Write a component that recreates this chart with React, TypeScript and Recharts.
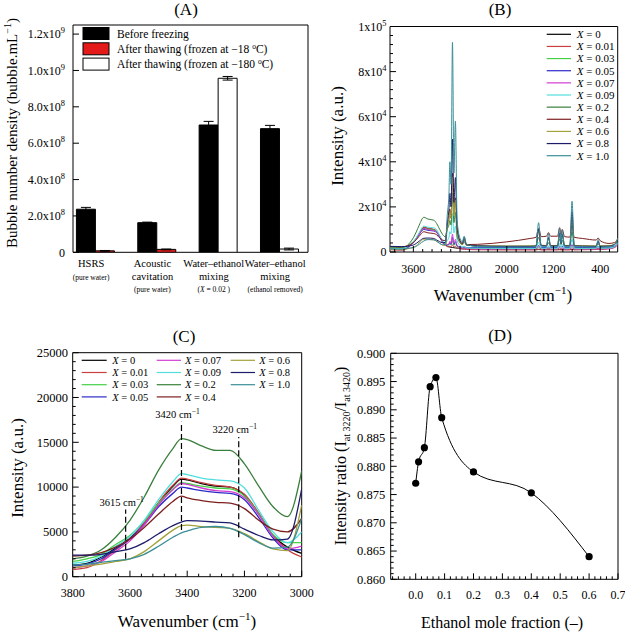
import React from "react"
import {
  BarChart,
  Bar,
  LineChart,
  Line,
  XAxis,
  YAxis,
  ErrorBar,
  Cell,
  ReferenceArea,
  ReferenceLine,
} from "recharts"

const FONT = "'Liberation Serif', 'Times New Roman', Times, serif"

// ---------- (A) bubble number density ----------
const groupIdx = [1, 2, 3, 4]
const groupLine1 = ["HSRS", "Acoustic", "Water\u2013ethanol", "Water\u2013ethanol"]
const groupLine2 = ["", "cavitation", "mixing", "mixing"]
const groupNote = ["(pure water)", "(pure water)", "(X = 0.02 )", "(ethanol removed)"]
const beforeVals = [2.37e8, 1.63e8, 7.0e8, 6.8e8]
const beforeErr = [0.1e8, 0.03e8, 0.2e8, 0.18e8]
const afterVals = [0.08e8, 0.16e8, 9.57e8, 0.18e8]
const afterErr = [0.02e8, 0.02e8, 0.1e8, 0.05e8]
const afterFill = ["#e41a1a", "#e41a1a", "#ffffff", "#ffffff"]
const legendA = ["Before freezing", "After thawing (frozen at \u221218 ", "After thawing (frozen at \u2212180 "]
const legendAFill = ["#000000", "#e41a1a", "#ffffff"]

// ---------- shared series (B, C) ----------
const seriesLabels = ["0", "0.01", "0.03", "0.05", "0.07", "0.09", "0.2", "0.4", "0.6", "0.8", "1.0"]
const seriesColors = [
  "#000000", "#c84040", "#45d045", "#2b2bc8", "#d23cd2", "#52dede",
  "#3a7f3c", "#7d1f1f", "#a3a23a", "#1c1c6a", "#3a8e98",
]

// ---------- (B) full Raman spectra ----------
const wB = [
  4000, 3800, 3700, 3650, 3600, 3550, 3500, 3420, 3350, 3250, 3200, 3150, 3100, 3050,
  3020, 2990, 2975, 2955, 2930, 2905, 2880, 2850, 2800, 2760, 2730, 2690,
  2500, 2000, 1600, 1500,
  1455, 1410, 1320, 1285, 1250, 1130, 1095, 1070, 1050, 1010, 920, 882, 845,
  700, 470, 435, 400, 250, 150, 100,
]
const b0 = [
  1500, 1300, 2200, 3200, 4300, 6000, 8200, 10900, 10400, 10000, 9100, 7000, 4600, 3300,
  2600, 2300, 2200, 2100, 2000, 1900, 1800, 1700, 1600, 1500, 1500, 1400,
  1300, 1200, 1200, 1200,
  1200, 1200, 1200, 1200, 1200, 1200, 1200, 1200, 1200, 1200, 1200, 1200, 1200,
  1300, 1400, 1400, 1500, 1800, 2400, 3800,
]
const b1 = [
  1000, 800, 1800, 3000, 4200, 6000, 8300, 11000, 10500, 10000, 9200, 7100, 4600, 3000,
  2400, 2300, 2600, 2300, 3200, 2200, 2500, 1800, 1400, 1200, 1200, 1100,
  1000, 900, 900, 900,
  1100, 900, 900, 950, 900, 900, 1000, 900, 950, 900, 900, 1300, 900,
  1000, 1100, 1200, 1100, 1400, 2000, 3200,
]
const b2 = [
  1900, 1700, 2500, 3600, 4600, 6200, 8200, 10500, 10100, 9800, 9000, 7000, 4700, 3800,
  3400, 3200, 3600, 3100, 4800, 3000, 3600, 2400, 1900, 1700, 1700, 1600,
  1500, 1400, 1400, 1400,
  2000, 1400, 1400, 1500, 1400, 1400, 1800, 1500, 1700, 1400, 1400, 2300, 1400,
  1400, 1500, 1700, 1500, 1700, 2300, 3800,
]
const b3 = [
  1400, 1200, 2000, 3100, 4200, 5800, 7800, 10000, 9600, 9300, 8600, 6600, 4300, 3000,
  3100, 3300, 4200, 3400, 6500, 3300, 4600, 2700, 2200, 2100, 2200, 2000,
  2000, 2000, 2000, 2000,
  2800, 2000, 2000, 2200, 2000, 2000, 2600, 2100, 2500, 2000, 2000, 3200, 2000,
  2000, 2000, 2400, 2000, 2100, 2600, 4200,
]
const b4 = [
  1200, 1000, 1700, 2800, 4000, 5800, 8000, 10400, 9900, 9500, 8800, 6900, 4500, 3100,
  3300, 3600, 4800, 3800, 8000, 3800, 5600, 2800, 1900, 1600, 1700, 1400,
  1300, 1300, 1300, 1300,
  2600, 1300, 1300, 1600, 1300, 1300, 2000, 1400, 1800, 1300, 1300, 3200, 1300,
  1300, 1300, 1700, 1300, 1500, 2100, 3600,
]
const b5 = [
  1700, 1500, 2300, 3400, 4500, 6300, 8600, 11500, 11000, 10700, 9900, 7400, 5000, 3800,
  5000, 6500, 9000, 8000, 17000, 8500, 11500, 5000, 2800, 2200, 2600, 1900,
  1700, 1600, 1600, 1600,
  4200, 1700, 1700, 2600, 1700, 1700, 3800, 2200, 3400, 1700, 1700, 5500, 1700,
  1600, 1700, 2500, 1700, 1800, 2400, 4200,
]
const b6 = [
  2200, 2000, 3000, 4400, 6300, 8900, 11900, 15400, 14600, 14100, 12600, 10100, 7800, 6700,
  10000, 12000, 14000, 12000, 26000, 13000, 17500, 7000, 4000, 3200, 4500, 3000,
  2800, 2600, 2600, 2700,
  6500, 2800, 2700, 4000, 2700, 2700, 5800, 3300, 5200, 2700, 2700, 9000, 2700,
  2600, 2600, 3600, 2600, 2700, 3300, 5500,
]
const b7 = [
  2400, 2300, 2700, 3300, 4200, 5500, 7000, 9000, 8500, 8200, 7600, 6300, 5300, 5000,
  12000, 15000, 19000, 15000, 35000, 17000, 24000, 9000, 4500, 3600, 5500, 3300,
  3400, 4500, 6000, 6500,
  10500, 6800, 7000, 8600, 7000, 7000, 10800, 7600, 10000, 6800, 6600, 12000, 6500,
  6000, 5300, 6200, 5000, 3800, 4200, 5800,
]
const b8 = [
  1200, 1000, 1400, 1700, 2000, 2800, 4000, 5700, 5600, 5400, 4800, 3900, 3100, 2900,
  10000, 14000, 18000, 15000, 33000, 16000, 23000, 8500, 4300, 3400, 6000, 3000,
  2700, 2600, 2700, 2800,
  9000, 3000, 2900, 6000, 2900, 2900, 8000, 3800, 7500, 2900, 2900, 15000, 2900,
  2800, 2700, 4500, 2700, 2800, 3600, 6000,
]
const b9 = [
  2500, 2400, 2500, 2800, 3100, 3800, 4800, 6100, 6200, 6000, 5300, 4600, 4100, 4200,
  13000, 19000, 26000, 20000, 50000, 22000, 33000, 11000, 5000, 3800, 6500, 3200,
  2700, 2500, 2500, 2600,
  10000, 2800, 2700, 6500, 2700, 2700, 8500, 3800, 8000, 2700, 2700, 18000, 2700,
  2600, 2500, 4800, 2500, 2600, 3400, 5500,
]
const b10 = [
  1400, 1300, 1600, 1800, 2000, 2500, 3400, 4900, 5500, 5400, 4700, 3800, 3200, 3300,
  16000, 26000, 40000, 30000, 93000, 35000, 58000, 14000, 6000, 4500, 7000, 3500,
  2400, 2200, 2200, 2300,
  13000, 2600, 2400, 8300, 2400, 2400, 10500, 4200, 9800, 2400, 2400, 22500, 2400,
  2300, 2200, 5600, 2200, 2300, 3300, 6000,
]
const seriesB = [b0, b1, b2, b3, b4, b5, b6, b7, b8, b9, b10]
const bXMajor = [3600, 2800, 2000, 1200, 400]
const bYMajor = [0, 20000, 40000, 60000, 80000, 100000]

// ---------- (C) OH stretching region ----------
const wC = [3800, 3750, 3700, 3650, 3600, 3550, 3500, 3450, 3420, 3400, 3350, 3300, 3250, 3200, 3150, 3100, 3050, 3000]
const c0 = [1300, 1500, 2200, 3200, 4300, 6000, 8200, 10100, 10900, 10800, 10400, 10100, 10000, 9100, 7000, 4600, 3300, 2600]
const c1 = [800, 1000, 1800, 3000, 4200, 6000, 8300, 10200, 11000, 10900, 10500, 10200, 10000, 9200, 7100, 4600, 3000, 2200]
const c2 = [1700, 2000, 2500, 3600, 4600, 6200, 8200, 9800, 10500, 10400, 10100, 9900, 9800, 9000, 7000, 4700, 3800, 3800]
const c3 = [1200, 1400, 2000, 3100, 4200, 5800, 7800, 9300, 10000, 9900, 9600, 9400, 9300, 8600, 6600, 4300, 3000, 3000]
const c4 = [1000, 1200, 1700, 2800, 4000, 5800, 8000, 9700, 10400, 10300, 9900, 9600, 9500, 8800, 6900, 4500, 3100, 3400]
const c5 = [1500, 1700, 2300, 3400, 4500, 6300, 8600, 10600, 11500, 11400, 11000, 10800, 10700, 9900, 7400, 5000, 3800, 5000]
const c6 = [2000, 2300, 3000, 4400, 6300, 8900, 11900, 14300, 15400, 15300, 14600, 14100, 14100, 12600, 10100, 7800, 6700, 11800]
const c7 = [2300, 2400, 2700, 3300, 4200, 5500, 7000, 8400, 9000, 8800, 8500, 8300, 8200, 7600, 6300, 5300, 5000, 6500]
const c8 = [1000, 1200, 1400, 1700, 2000, 2800, 4000, 5200, 5700, 5750, 5600, 5500, 5400, 4800, 3900, 3100, 2900, 8000]
const c9 = [2400, 2400, 2500, 2800, 3100, 3800, 4800, 5700, 6100, 6250, 6200, 6100, 6000, 5300, 4600, 4100, 4200, 9800]
const c10 = [1300, 1400, 1600, 1800, 2000, 2500, 3400, 4400, 4900, 5100, 5500, 5600, 5400, 4700, 3800, 3200, 3300, 6500]
const seriesC = [c0, c1, c2, c3, c4, c5, c6, c7, c8, c9, c10]
const peakWave = [3615, 3420, 3220]
const peakLow = [2000, 5200, 4400]
const peakHigh = [7500, 17300, 15600]
const cXMajor = [3800, 3600, 3400, 3200, 3000]
const cYMajor = [0, 5000, 10000, 15000, 20000, 25000]

// ---------- (D) intensity ratio ----------
const xD = [0, 0.01, 0.03, 0.05, 0.07, 0.09, 0.2, 0.4, 0.6]
const rD = [0.877, 0.8808, 0.8833, 0.8941, 0.8957, 0.8886, 0.879, 0.8753, 0.864]

function range(start: number, stop: number, step: number) {
  const out: number[] = []
  const n = Math.round((stop - start) / step)
  for (let i = 0; i <= n; i++) out.push(Math.round((start + i * step) * 1e6) / 1e6)
  return out
}
const dXMajor = range(0, 0.7, 0.1)
const dYMajor = range(0.86, 0.9, 0.005)

const isMajor = (v: number, majors: number[]) => majors.some((m) => Math.abs(m - v) < 1e-7)

type TickP = { x?: number; y?: number; payload?: { value: number } }

function sci(mant: string, exp: string, size: number) {
  return (
    <>
      {mant}x10
      <tspan dy={-size * 0.42} fontSize={size * 0.7}>{exp}</tspan>
    </>
  )
}

function yTick(p: TickP, majors: number[], fmt: (v: number) => React.ReactNode, gap: number, size: number) {
  const { x = 0, y = 0, payload } = p
  const v = payload ? payload.value : 0
  const major = isMajor(v, majors)
  return (
    <g>
      <line x1={x} x2={x + (major ? 6 : 3)} y1={y} y2={y} stroke="#000" strokeWidth={1} />
      {major && (
        <text x={x - gap} y={y} dy="0.35em" textAnchor="end" fontSize={size} fontFamily={FONT} fill="#000">
          {fmt(v)}
        </text>
      )}
    </g>
  )
}

function xTick(p: TickP, majors: number[], fmt: (v: number) => React.ReactNode, offset: number, size: number) {
  const { x = 0, y = 0, payload } = p
  const v = payload ? payload.value : 0
  const major = isMajor(v, majors)
  return (
    <g>
      <line x1={x} x2={x} y1={y} y2={y - (major ? 6 : 3)} stroke="#000" strokeWidth={1} />
      {major && (
        <text x={x} y={y + offset} textAnchor="middle" fontSize={size} fontFamily={FONT} fill="#000">
          {fmt(v)}
        </text>
      )}
    </g>
  )
}

function groupTick(p: TickP) {
  const { x = 0, y = 0, payload } = p
  const i = groupIdx.indexOf(payload ? payload.value : 0)
  if (i < 0) return <g />
  const cx = x - 4
  const note = groupNote[i]
  const parts = note.split("X")
  const noteY = groupLine2[i] ? y + 40 : y + 28
  const txt = { fontFamily: FONT, fill: "#000", stroke: "none", textAnchor: "middle" as const }
  return (
    <g>
      <text x={cx} y={y + 15} fontSize={10.5} {...txt}>{groupLine1[i]}</text>
      {groupLine2[i] && <text x={cx} y={y + 27.5} fontSize={10.5} {...txt}>{groupLine2[i]}</text>}
      <text x={cx} y={noteY} fontSize={7.5} {...txt}>
        {parts[0]}
        {parts.length > 1 && <tspan fontStyle="italic">X</tspan>}
        {parts.length > 1 && parts[1]}
      </text>
    </g>
  )
}

function PeakLabel(props: { text: string; viewBox?: { x: number; y: number } }) {
  const vb = props.viewBox || { x: 0, y: 0 }
  return (
    <text x={vb.x - 4} y={vb.y - 4} textAnchor="middle" fontSize={10.5} fontFamily={FONT} fill="#000">
      {props.text} cm
      <tspan dy={-4} fontSize={7.5}>{"\u22121"}</tspan>
    </text>
  )
}

const rowsA = groupIdx.map((idx, i) => ({
  idx,
  before: beforeVals[i],
  beforeErr: beforeErr[i],
  after: afterVals[i],
  afterErr: afterErr[i],
}))

const rowsB = wB.map((w, i) => {
  const row: Record<string, number> = { w }
  seriesB.forEach((s, k) => (row[`s${k}`] = s[i]))
  return row
})

const rowsC = wC.map((w, i) => {
  const row: Record<string, number> = { w }
  seriesC.forEach((s, k) => (row[`s${k}`] = s[i]))
  return row
})

const rowsD = xD.map((x, i) => ({ x, r: rD[i] }))

// axes get width/height 1 (a 0-sized axis is not drawn), margins are one pixel smaller
const axisX = { height: 1, tickSize: 0, tickMargin: 0, tickLine: false, axisLine: false, interval: 0 as const, allowDataOverflow: true }
const axisY = { width: 1, tickSize: 0, tickMargin: 0, tickLine: false, axisLine: false, interval: 0 as const, allowDataOverflow: true }

function PanelA() {
  return (
    <BarChart width={312} height={312} data={rowsA} margin={{ top: 25, right: 4, bottom: 58.7, left: 72 }} barSize={19} barGap={0}>
      <XAxis {...axisX} type="number" dataKey="idx" domain={[0.64, 4.47]} ticks={groupIdx} tick={groupTick} />
      <YAxis
        {...axisY}
        type="number"
        domain={[0, 1.25e9]}
        ticks={range(0, 1.2e9, 2e8)}
        tick={(p: TickP) =>
          yTick(p, range(0, 1.2e9, 2e8), (v) => (v === 0 ? "0" : v >= 1e9 ? sci((v / 1e9).toFixed(1), "9", 12) : sci((v / 1e8).toFixed(1), "8", 12)), 8, 12)
        }
      />
      <ReferenceArea x1={0.64} x2={4.47} y1={0} y2={1.25e9} fill="none" stroke="#000" strokeWidth={1} ifOverflow="visible" />
      <Bar dataKey="before" fill="#000" stroke="#000" isAnimationActive={false}>
        <ErrorBar dataKey="beforeErr" width={5} stroke="#000" strokeWidth={1} direction="y" />
      </Bar>
      <Bar dataKey="after" stroke="#000" isAnimationActive={false}>
        {rowsA.map((_, i) => (
          <Cell key={i} fill={afterFill[i]} />
        ))}
        <ErrorBar dataKey="afterErr" width={5} stroke="#000" strokeWidth={1} direction="y" />
      </Bar>
    </BarChart>
  )
}

function PanelB() {
  return (
    <LineChart width={313} height={312} data={rowsB} margin={{ top: 26.5, right: 7.3, bottom: 59, left: 77 }}>
      <XAxis
        {...axisX}
        type="number"
        dataKey="w"
        domain={[100, 4000]}
        reversed
        ticks={range(240, 3920, 160)}
        tick={(p: TickP) => xTick(p, bXMajor, (v) => String(v), 21, 12)}
      />
      <YAxis
        {...axisY}
        type="number"
        domain={[0, 100000]}
        ticks={range(0, 100000, 4000)}
        tick={(p: TickP) =>
          yTick(p, bYMajor, (v) => (v === 0 ? "0" : v >= 1e5 ? sci("1", "5", 12) : sci(String(v / 1e4), "4", 12)), 3.5, 12)
        }
      />
      <ReferenceArea x1={100} x2={4000} y1={0} y2={100000} fill="none" stroke="#000" strokeWidth={1} ifOverflow="visible" />
      {seriesB.map((_, k) => (
        <Line
          key={k}
          dataKey={`s${k}`}
          type="monotone"
          stroke={seriesColors[k]}
          strokeWidth={1}
          dot={false}
          isAnimationActive={false}
        />
      ))}
    </LineChart>
  )
}

function PanelC() {
  return (
    <LineChart width={322} height={320} data={rowsC} margin={{ top: 40.7, right: 20.3, bottom: 54.3, left: 71.7 }}>
      <XAxis
        {...axisX}
        type="number"
        dataKey="w"
        domain={[3000, 3800]}
        reversed
        ticks={range(3000, 3800, 40)}
        tick={(p: TickP) => xTick(p, cXMajor, (v) => String(v), 20, 12)}
      />
      <YAxis
        {...axisY}
        type="number"
        domain={[0, 25000]}
        ticks={range(0, 25000, 1000)}
        tick={(p: TickP) => yTick(p, cYMajor, (v) => String(v), 4.7, 12.5)}
      />
      <ReferenceArea x1={3000} x2={3800} y1={0} y2={25000} fill="none" stroke="#000" strokeWidth={1} ifOverflow="visible" />
      {seriesC.map((_, k) => (
        <Line
          key={k}
          dataKey={`s${k}`}
          type="monotone"
          stroke={seriesColors[k]}
          strokeWidth={1.3}
          dot={false}
          isAnimationActive={false}
        />
      ))}
      {peakWave.map((w, i) => (
        <ReferenceLine
          key={w}
          segment={[
            { x: w, y: peakLow[i] },
            { x: w, y: peakHigh[i] },
          ]}
          stroke="#000"
          strokeWidth={1.2}
          strokeDasharray="6 3"
          label={<PeakLabel text={String(w)} />}
        />
      ))}
    </LineChart>
  )
}

function PanelD() {
  return (
    <LineChart width={313} height={320} data={rowsD} margin={{ top: 41.3, right: 7, bottom: 51.7, left: 77.7 }}>
      <XAxis
        {...axisX}
        type="number"
        dataKey="x"
        domain={[-0.0865, 0.7]}
        ticks={range(-0.08, 0.7, 0.02)}
        tick={(p: TickP) => xTick(p, dXMajor, (v) => v.toFixed(1), 20, 12)}
      />
      <YAxis
        {...axisY}
        type="number"
        domain={[0.86, 0.9]}
        ticks={range(0.86, 0.9, 0.001)}
        tick={(p: TickP) => yTick(p, dYMajor, (v) => v.toFixed(3), 5.5, 12.5)}
      />
      <ReferenceArea x1={-0.0865} x2={0.7} y1={0.86} y2={0.9} fill="none" stroke="#000" strokeWidth={1} ifOverflow="visible" />
      <Line
        dataKey="r"
        type="monotone"
        stroke="#000"
        strokeWidth={1}
        dot={{ r: 3.6, fill: "#000", stroke: "#000", strokeWidth: 0 }}
        isAnimationActive={false}
      />
    </LineChart>
  )
}

function Overlay() {
  const t = { fontFamily: FONT, fill: "#000" }
  const colLineX1 = [81.7, 156.7, 230.7]
  const colLineX2 = [106.7, 181, 255]
  const colTextX = [112.3, 185, 259.3]
  return (
    <svg width={625} height={632} style={{ position: "absolute", left: 0, top: 0, pointerEvents: "none" }}>
      {/* panel titles */}
      <text x={186} y={15} textAnchor="middle" fontSize={17} {...t}>(A)</text>
      <text x={500} y={15} textAnchor="middle" fontSize={17} {...t}>(B)</text>
      <text x={184} y={342} textAnchor="middle" fontSize={17} {...t}>(C)</text>
      <text x={500} y={341} textAnchor="middle" fontSize={17} {...t}>(D)</text>

      {/* axis titles */}
      <text transform="translate(12,133) rotate(-90)" textAnchor="middle" dy="0.35em" fontSize={15} {...t}>
        Bubble number density (bubble.mL<tspan dy={-6} fontSize={10}>{"\u22121"}</tspan>
        <tspan dy={6}>)</tspan>
      </text>
      <text transform="translate(337.5,136) rotate(-90)" textAnchor="middle" dy="0.35em" fontSize={17} {...t}>
        Intensity (a.u.)
      </text>
      <text x={503} y={301} textAnchor="middle" fontSize={17} {...t}>
        Wavenumber (cm<tspan dy={-7} fontSize={11}>{"\u22121"}</tspan>
        <tspan dy={7}>)</tspan>
      </text>
      <text transform="translate(17.5,468) rotate(-90)" textAnchor="middle" dy="0.35em" fontSize={17} {...t}>
        Intensity (a.u.)
      </text>
      <text x={187} y={627} textAnchor="middle" fontSize={17} {...t}>
        Wavenumber (cm<tspan dy={-7} fontSize={11}>{"\u22121"}</tspan>
        <tspan dy={7}>)</tspan>
      </text>
      <text transform="translate(340,456) rotate(-90)" textAnchor="middle" dy="0.35em" fontSize={16} {...t}>
        Intensity ratio (I<tspan dy={4} fontSize={10}>at 3220</tspan>
        <tspan dy={-4}>/I</tspan>
        <tspan dy={4} fontSize={10}>at 3420</tspan>
        <tspan dy={-4}>)</tspan>
      </text>
      <text x={502} y={628} textAnchor="middle" fontSize={16} {...t}>
        Ethanol mole fraction ({"\u2013"})
      </text>

      {/* legend A */}
      {legendA.map((lab, i) => {
        const cy = 33.5 + i * 15.3
        return (
          <g key={lab}>
            <rect x={83} y={cy - 6} width={26} height={12} fill={legendAFill[i]} stroke="#000" strokeWidth={1} />
            <text x={117} y={cy + 4} fontSize={11.5} {...t}>
              {lab}
              {i > 0 && (
                <>
                  <tspan dy={-4} fontSize={7.5}>o</tspan>
                  <tspan dy={4}>C)</tspan>
                </>
              )}
            </text>
          </g>
        )
      })}

      {/* legend B */}
      {seriesLabels.map((lab, i) => {
        const cy = 34.3 + i * 12.14
        return (
          <g key={`b${lab}`}>
            <line x1={546.7} x2={571} y1={cy} y2={cy} stroke={seriesColors[i]} strokeWidth={1.2} />
            <text x={576.7} y={cy + 3.8} fontSize={11} {...t}>
              <tspan fontStyle="italic">X</tspan> = {lab}
            </text>
          </g>
        )
      })}

      {/* legend C */}
      {seriesLabels.map((lab, i) => {
        const col = Math.floor(i / 4)
        const cy = 360.3 + (i % 4) * 12.2
        return (
          <g key={`c${lab}`}>
            <line x1={colLineX1[col]} x2={colLineX2[col]} y1={cy} y2={cy} stroke={seriesColors[i]} strokeWidth={1.2} />
            <text x={colTextX[col]} y={cy + 3.6} fontSize={10.5} {...t}>
              <tspan fontStyle="italic">X</tspan> = {lab}
            </text>
          </g>
        )
      })}
    </svg>
  )
}

export default function App() {
  return (
    <div style={{ position: "absolute", left: 0, top: 0, width: 625, height: 632, background: "#fff", fontFamily: FONT }}>
      <div style={{ position: "absolute", left: 0, top: 0 }}>
        <PanelA />
      </div>
      <div style={{ position: "absolute", left: 312, top: 0 }}>
        <PanelB />
      </div>
      <div style={{ position: "absolute", left: 0, top: 312 }}>
        <PanelC />
      </div>
      <div style={{ position: "absolute", left: 312, top: 312 }}>
        <PanelD />
      </div>
      <Overlay />
    </div>
  )
}
